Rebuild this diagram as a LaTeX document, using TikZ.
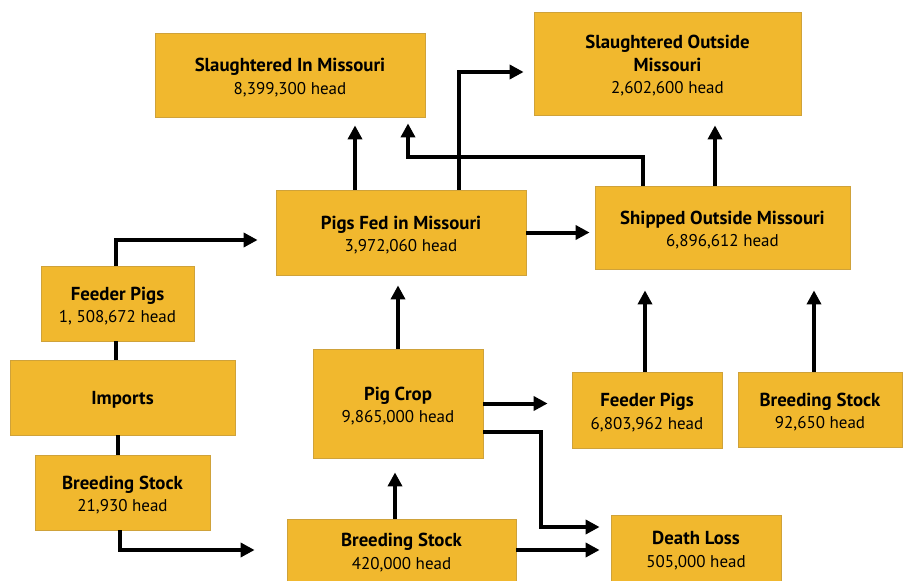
\documentclass[tikz,border=0pt]{standalone}
\usepackage{fontspec}
\setmainfont{PT Sans}
\usetikzlibrary{arrows.meta,calc}
\definecolor{boxfill}{HTML}{F1B82E}
\definecolor{boxline}{HTML}{CFA23A}
\tikzset{
  flowbox/.style={draw=boxline, line width=0.8pt, fill=boxfill, inner sep=0pt,
    align=center, font=\fontsize{17}{22.5}\selectfont, text=black},
  arr/.style={line width=4pt, line join=miter, -{Triangle[length=14pt,width=14pt]}},
  plain/.style={line width=4pt, line join=miter},
}
\newcommand{\hd}[1]{{\fontsize{18.8}{22.5}\selectfont\bfseries #1}}
\newcommand{\hdf}[1]{\rule{0pt}{18.5pt}{\fontsize{18.8}{22.5}\selectfont\bfseries #1}}
\begin{document}
\begin{tikzpicture}[x=1pt,y=-1pt]
\useasboundingbox (0,0) rectangle (903,581);
\node[flowbox, minimum width=270pt, minimum height=84pt] (sim) at (290,75) {\hdf{Slaughtered In Missouri}\\8,399,300 head};
\node[flowbox, minimum width=267pt, minimum height=103pt] (sout) at (667.5,63.5) {\hdf{Slaughtered Outside}\\\hd{Missouri}\\2,602,600 head};
\node[flowbox, minimum width=250pt, minimum height=85pt] (pf) at (401,232.5) {\hdf{Pigs Fed in Missouri}\\3,972,060 head};
\node[flowbox, minimum width=255pt, minimum height=83pt] (ship) at (722.5,227.5) {\hdf{Shipped Outside Missouri}\\6,896,612 head};
\node[flowbox, minimum width=153pt, minimum height=75pt] (fl) at (117.5,303.5) {\hdf{Feeder Pigs}\\1, 508,672 head};
\node[flowbox, minimum width=225pt, minimum height=75pt] (imp) at (122.5,397.5) {\hdf{Imports}};
\node[flowbox, minimum width=175pt, minimum height=75pt] (bl) at (122.5,492.5) {\hdf{Breeding Stock}\\21,930 head};
\node[flowbox, minimum width=170pt, minimum height=109pt] (pc) at (398,403.5) {\hdf{Pig Crop}\\9,865,000 head};
\node[flowbox, minimum width=150pt, minimum height=76pt] (fr) at (647,410) {\hdf{Feeder Pigs}\\6,803,962 head};
\node[flowbox, minimum width=164pt, minimum height=75pt] (br) at (820,409.5) {\hdf{Breeding Stock}\\92,650 head};
\node[flowbox, minimum width=229pt, minimum height=62pt] (bs) at (401.5,550) {\hdf{Breeding Stock}\\420,000 head};
\node[flowbox, minimum width=170pt, minimum height=66pt] (dl) at (696,548) {\hdf{Death Loss}\\505,000 head};

% left chain
\draw[arr, shorten >=18pt] ([xshift=-1.5pt]fl.north) |- ([yshift=-7.5pt]pf.west);
\draw[plain] ([xshift=-1.5pt]fl.south) -- ([xshift=-1.5pt]fl.south |- imp.north);
\draw[plain] ([xshift=-4.5pt]imp.south) -- ([xshift=-4.5pt]bl.north);
\draw[arr, shorten >=32pt] ([xshift=-2.5pt]bl.south) |- (bs.west);
% bottom
\draw[arr, shorten >=14pt] ([xshift=-6.5pt]bs.north) -- ([xshift=-6.5pt]bs.north |- pc.south);
\draw[arr, shorten >=11pt] (bs.east) -- (bs.east -| dl.west);
\draw[arr, shorten >=11pt] ([yshift=-28.5pt]pc.east) -- ++(58,0) |- ([yshift=21pt]dl.west);
\draw[arr, shorten >=24pt] (pc.east) -- (pc.east -| fr.west);
\draw[arr, shorten >=10pt] (pc.north) -- (pc.north |- pf.south);
% middle
\draw[arr, shorten >=5pt] (pf.east) -- (pf.east -| ship.west);
\draw[arr, shorten >=8pt] ([xshift=-46pt]pf.north) -- ([xshift=-46pt]pf.north |- sim.south);
\draw[arr, shorten >=10pt] ([xshift=58pt]pf.north) |- ([yshift=-8.5pt]sout.west);
\draw[arr, shorten >=6pt] ([xshift=-79.5pt]ship.north) -- ++(0,-29) -| ([xshift=118pt]sim.south);
\draw[arr, shorten >=10pt] ([xshift=-7.5pt]ship.north) -- ([xshift=-7.5pt]ship.north |- sout.south);
\draw[arr, shorten >=21pt] ([xshift=-2pt]fr.north) -- ([xshift=-2pt]fr.north |- ship.south);
\draw[arr, shorten >=21pt] ([xshift=-6pt]br.north) -- ([xshift=-6pt]br.north |- ship.south);
\end{tikzpicture}
\end{document}
